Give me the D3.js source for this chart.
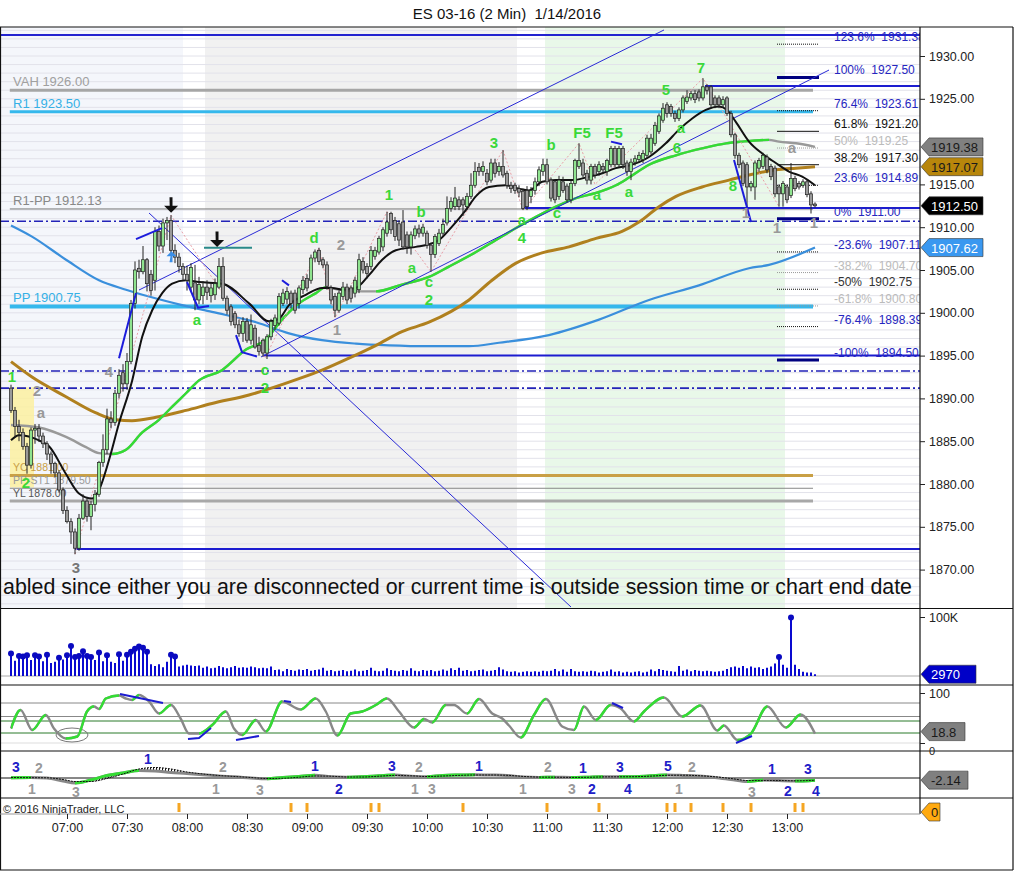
<!DOCTYPE html>
<html>
<head>
<meta charset="utf-8">
<script src="https://cdn.jsdelivr.net/npm/d3@7"></script>
<style>
body { margin: 0; background: #fff; }
svg text { font-family: "Liberation Sans", Arial, sans-serif; }
</style>
</head>
<body>
<svg id="chart" width="1014" height="871"></svg>
<script>
// ---- data ----
const chartTitle = "ES 03-16 (2 Min)  1/14/2016";
const firstBar = "06:32";
const barMinutes = 2;

const barOpen = [
 1891.2,1888.6,1886.7,1886.0,1884.4,1882.2,1886.3,1886.5,1885.6,1884.7,
 1883.5,1882.4,1881.3,1879.3,1876.9,1875.6,1874.4,1872.5,1876.0,1878.0,
 1876.2,1877.6,1878.8,1882.5,1884.0,1887.6,1887.2,1890.6,1893.0,1891.7,
 1894.3,1901.1,1905.2,1904.8,1906.2,1904.5,1903.8,1909.5,1907.8,1910.5,
 1910.8,1907.3,1906.5,1905.4,1904.5,1903.0,1903.5,1901.5,1902.0,1903.0,
 1902.0,1902.1,1903.0,1905.4,1901.7,1900.7,1899.9,1898.6,1897.6,1899.0,
 1896.8,1898.2,1896.2,1896.8,1895.3,1897.2,1898.5,1898.8,1901.1,1901.6,
 1902.3,1902.3,1901.1,1902.7,1904.0,1903.8,1906.4,1907.3,1906.2,1905.6,
 1902.9,1901.9,1900.3,1901.9,1903.0,1902.9,1902.3,1902.7,1906.0,1905.4,
 1905.4,1906.6,1907.1,1907.7,1909.3,1911.6,1910.8,1910.4,1910.6,1909.1,
 1907.7,1909.0,1909.8,1909.3,1909.3,1907.9,1906.8,1908.1,1909.3,1910.5,
 1912.2,1912.4,1913.2,1913.2,1912.4,1913.6,1914.9,1917.0,1916.5,1916.3,
 1915.5,1917.5,1916.5,1917.1,1916.3,1914.9,1914.9,1914.5,1914.2,1914.3,
 1913.6,1914.3,1915.3,1916.5,1917.3,1915.5,1915.3,1913.6,1915.3,1914.8,
 1913.2,1915.1,1917.1,1917.5,1916.3,1915.5,1917.1,1916.5,1917.1,1916.5,
 1917.3,1919.2,1917.3,1919.2,1917.5,1916.5,1917.6,1917.9,1917.9,1918.4,
 1918.8,1919.8,1921.2,1922.5,1924.3,1924.1,1923.3,1922.7,1923.7,1924.7,
 1925.1,1925.6,1925.8,1925.1,1926.4,1926.4,1925.1,1925.1,1924.3,1925.1,
 1923.3,1920.8,1918.4,1917.5,1917.3,1914.7,1914.7,1916.9,1917.1,1918.2,
 1917.1,1916.9,1914.7,1913.9,1914.7,1913.7,1915.7,1915.1,1914.9,1915.3,
 1913.9,1912.7];
const barHigh = [
 1891.6,1889.0,1887.5,1886.5,1884.8,1886.6,1887.0,1887.0,1886.0,1885.0,
 1883.8,1882.6,1881.6,1879.6,1877.4,1876.0,1874.8,1876.5,1878.8,1878.5,
 1878.0,1879.3,1882.7,1885.8,1888.8,1888.5,1891.0,1893.4,1894.0,1895.3,
 1901.5,1906.0,1906.2,1907.8,1906.4,1905.0,1910.0,1910.2,1911.0,1911.2,
 1911.4,1908.0,1907.0,1905.8,1905.5,1905.8,1905.6,1904.2,1903.7,1903.8,
 1903.5,1904.0,1906.4,1906.5,1902.0,1901.0,1900.2,1899.2,1899.5,1899.4,
 1899.8,1898.6,1897.2,1897.0,1897.5,1899.3,1899.8,1902.3,1902.8,1903.0,
 1902.6,1902.7,1903.2,1904.3,1904.5,1906.8,1907.4,1907.6,1906.5,1906.0,
 1903.2,1902.3,1902.6,1903.6,1903.4,1903.2,1904.2,1906.9,1906.5,1905.8,
 1907.8,1907.7,1909.0,1910.0,1911.8,1911.8,1911.2,1910.8,1912.0,1909.5,
 1909.5,1910.2,1910.3,1910.4,1909.6,1908.2,1909.2,1909.8,1911.0,1913.6,
 1913.5,1914.7,1913.6,1913.5,1914.0,1916.3,1917.6,1917.5,1917.7,1916.8,
 1918.0,1918.0,1917.6,1919.0,1916.6,1915.3,1915.2,1914.9,1914.5,1914.8,
 1914.7,1915.8,1917.1,1918.0,1918.0,1915.8,1915.6,1916.0,1915.9,1915.1,
 1915.4,1918.0,1919.8,1918.0,1916.7,1917.4,1917.4,1917.7,1917.5,1918.0,
 1919.5,1919.5,1919.5,1919.5,1917.8,1918.0,1918.4,1918.8,1919.0,1920.8,
 1920.9,1922.3,1923.3,1924.5,1924.6,1924.4,1923.6,1924.0,1925.4,1926.0,
 1925.9,1926.0,1926.1,1927.4,1926.7,1926.6,1925.4,1925.4,1925.3,1925.3,
 1923.6,1921.0,1918.7,1917.8,1917.6,1915.4,1917.8,1918.1,1918.7,1918.5,
 1917.4,1917.2,1915.0,1915.4,1915.0,1917.5,1916.0,1915.4,1915.6,1915.6,
 1914.2,1912.9];
const barLow = [
 1888.3,1885.5,1885.0,1884.0,1881.2,1881.8,1884.7,1884.9,1884.2,1882.8,
 1881.2,1880.8,1879.0,1876.5,1875.4,1873.0,1871.8,1872.2,1875.8,1875.6,
 1874.6,1876.8,1878.5,1882.0,1883.5,1886.5,1886.8,1890.0,1890.8,1891.0,
 1894.0,1900.5,1904.0,1904.5,1902.5,1902.0,1902.6,1907.2,1907.0,1908.5,
 1907.0,1905.8,1904.7,1903.8,1902.6,1902.5,1900.3,1901.0,1901.0,1901.5,
 1901.2,1901.5,1902.8,1901.4,1899.8,1898.5,1898.2,1897.2,1896.6,1896.5,
 1896.3,1895.8,1895.0,1894.9,1894.6,1896.8,1898.0,1898.5,1900.8,1901.0,
 1900.5,1899.9,1900.5,1902.2,1902.5,1903.4,1905.9,1905.6,1905.2,1902.7,
 1901.0,1899.5,1900.0,1901.5,1901.0,1901.2,1901.8,1902.3,1904.6,1904.0,
 1905.0,1906.2,1906.8,1907.2,1908.9,1909.2,1908.4,1907.8,1907.4,1906.9,
 1906.8,1908.6,1908.8,1908.9,1907.5,1904.8,1906.4,1907.8,1909.0,1910.2,
 1911.8,1912.0,1912.0,1911.3,1912.0,1913.3,1914.6,1916.0,1916.0,1914.9,
 1915.2,1915.8,1916.0,1915.8,1914.5,1914.0,1913.9,1913.5,1912.0,1912.0,
 1912.8,1913.8,1914.8,1916.0,1915.0,1913.0,1912.8,1913.2,1914.0,1912.9,
 1912.8,1914.8,1916.8,1915.8,1915.0,1915.0,1915.7,1916.0,1916.2,1916.0,
 1917.0,1917.0,1917.0,1916.8,1916.0,1915.5,1917.2,1917.5,1917.5,1918.0,
 1918.5,1919.5,1920.9,1922.2,1922.8,1922.9,1922.3,1922.4,1923.4,1924.4,
 1924.8,1924.5,1924.7,1924.8,1925.5,1924.0,1923.9,1923.9,1924.0,1923.0,
 1920.5,1918.0,1916.9,1914.8,1911.6,1914.2,1913.2,1916.5,1916.8,1916.3,
 1915.5,1913.5,1912.4,1912.4,1912.8,1913.4,1914.2,1914.4,1914.6,1913.5,
 1911.6,1912.3];
const barClose = [
 1888.6,1886.7,1886.0,1884.4,1882.2,1886.3,1886.5,1885.6,1884.7,1883.5,
 1882.4,1881.3,1879.3,1876.9,1875.6,1874.4,1872.5,1876.0,1878.0,1876.2,
 1877.6,1878.8,1882.5,1884.0,1887.6,1887.2,1890.6,1892.7,1891.7,1894.3,
 1901.1,1905.0,1904.8,1906.2,1903.4,1902.6,1909.5,1907.8,1910.5,1910.8,
 1907.3,1906.5,1905.4,1904.5,1903.8,1905.3,1901.5,1903.3,1903.0,1902.4,
 1902.9,1903.4,1905.4,1901.7,1900.3,1899.0,1898.6,1897.6,1899.0,1896.8,
 1898.6,1896.0,1895.5,1895.3,1897.2,1899.0,1899.4,1901.9,1902.3,1902.5,
 1901.1,1900.3,1902.9,1903.8,1902.9,1906.4,1907.1,1906.0,1905.6,1903.1,
 1901.5,1900.3,1902.3,1903.0,1901.5,1901.7,1903.8,1906.2,1905.0,1904.6,
 1907.3,1907.3,1908.7,1909.7,1910.6,1909.7,1908.9,1908.5,1907.7,1907.7,
 1909.1,1909.8,1909.3,1910.0,1907.9,1906.8,1908.9,1909.3,1910.3,1912.2,
 1913.0,1913.4,1912.4,1912.6,1913.6,1914.9,1916.5,1916.5,1917.1,1915.3,
 1917.5,1916.3,1917.1,1916.1,1914.9,1914.5,1914.3,1914.1,1912.2,1912.4,
 1914.3,1915.3,1916.7,1917.3,1915.3,1913.4,1913.2,1915.5,1914.3,1913.2,
 1915.1,1917.8,1917.8,1916.1,1915.5,1917.1,1916.1,1917.3,1916.7,1917.8,
 1919.2,1917.3,1919.2,1917.3,1916.5,1917.6,1918.0,1918.4,1918.6,1920.4,
 1920.4,1921.9,1923.0,1923.9,1923.3,1923.3,1922.7,1923.7,1925.1,1925.2,
 1925.6,1924.9,1925.1,1926.4,1926.0,1924.3,1924.3,1924.3,1924.9,1923.3,
 1920.8,1918.4,1917.3,1915.1,1914.7,1915.1,1917.5,1917.8,1918.4,1916.7,
 1915.9,1913.9,1913.9,1915.1,1913.2,1915.7,1914.5,1914.7,1915.3,1913.8,
 1912.6,1912.5];
// volume in thousands of contracts
const volume = [
 38,26,34,33,35,27,35,33,25,36, 22,24,31,28,35,51,32,34,42,34,
 32,27,40,25,35,24,22,37,26,36, 41,46,50,48,41,20,17,20,15,24,
 36,33,16,18,19,18,17,18,14,16, 13,14,17,15,13,15,17,14,15,14,
 16,15,13,14,13,16,10,11,8,12, 10,9,11,10,12,9,10,11,14,9,
 10,8,9,10,8,9,11,8,9,10, 14,9,8,9,13,10,9,8,10,9,
 13,9,8,10,9,10,8,9,11,9, 13,10,14,9,10,8,9,10,11,8,
 9,10,15,11,8,7,8,6,7,8, 7,8,7,9,8,9,12,8,11,7,
 12,8,7,8,7,9,8,6,7,8, 11,7,8,6,7,6,7,8,6,7,
 11,8,12,10,9,8,7,17,9,11, 8,10,9,8,9,8,7,8,9,12,
 15,16,14,17,13,16,14,15,12,14, 16,21,32,19,14,99,19,12,7,6,
 6,2.97];

// indicator lines, [bar index, value]
const fastAvg = [[0,1885.1],[2,1885.7],[7,1885.1],[9.5,1884.4],[13.7,1881.2],[17,1878.9],[20.3,1878.3],[22,1879.3],
 [24.5,1882.8],[27,1887.1],[30.3,1892.1],[32.8,1897.2],[35.3,1900.3],[37.8,1902.3],[40.3,1903.4],[43.7,1903.8],
 [47,1903.6],[52.8,1903.4],[59.5,1901.1],[64.5,1899.0],[67,1899.3],[69.5,1900.9],[73.7,1902.1],[77.8,1902.9],
 [80.3,1902.9],[82.8,1902.7],[86.2,1902.9],[89.5,1904.4],[92.8,1906.2],[96.2,1907.3],[101.2,1907.7],[104.5,1908.0],
 [107,1908.5],[110.3,1910.1],[113.7,1912.0],[116.2,1913.6],[119.5,1914.7],[123.7,1914.9],[127,1914.5],[129.5,1914.3],
 [132.8,1915.3],[136.2,1915.5],[140.3,1915.5],[144.5,1915.9],[147.8,1916.3],[151.2,1916.9],[154.5,1917.2],[159.5,1918.2],
 [163.7,1919.8],[167,1921.4],[170.3,1922.7],[173.7,1923.7],[177,1924.1],[179,1923.7],[181.2,1922.3],[184.5,1920.0],
 [187.8,1918.6],[191.2,1917.5],[194.5,1916.5],[197.8,1915.9],[201,1914.9]];
const midAvg = [[0,1886.9],[7,1886.6],[13.75,1885.5],[18.75,1884.3],[22,1883.6],[25.25,1883.5],[28.75,1884.0],
 [32.75,1886.0],[37,1887.5],[40.25,1889.0],[43.75,1890.6],[47,1892.1],[52.75,1893.3],[58.75,1895.7],[63.75,1896.9],
 [67.75,1899.2],[72,1901.1],[76.25,1902.3],[78.75,1903.0],[82,1902.7],[87.75,1902.5],[91.25,1902.5],[97.75,1903.3],
 [104.5,1904.2],[109.5,1905.4],[116.25,1907.1],[121.25,1908.5],[126.25,1909.9],[131.25,1911.2],[136.25,1912.4],
 [141.25,1913.4],[146.25,1914.0],[151.25,1914.9],[154.5,1915.8],[159.5,1917.3],[166.25,1918.4],[172.75,1919.2],
 [178.75,1919.8],[182.75,1920.0],[189.5,1920.2],[192,1920.0],[196.25,1919.8],[201,1919.38]];
const slowAvg = [[0,1894.3],[5.25,1892.5],[13.75,1890.2],[21.25,1888.3],[26.25,1887.5],[30.25,1887.4],[36.25,1887.8],
 [43.75,1888.6],[50.25,1889.4],[59.5,1890.4],[72,1892.3],[77.75,1893.3],[84.5,1894.7],[91.25,1896.2],[97.75,1897.8],
 [104.5,1898.9],[114.5,1901.5],[120.25,1903.8],[126.25,1905.8],[132.75,1907.0],[139.5,1907.7],[146.25,1908.7],
 [152.75,1909.5],[157,1910.6],[162,1912.4],[166.25,1913.6],[172.75,1914.7],[179.5,1915.5],[184.5,1916.1],
 [191.25,1916.7],[196.25,1916.9],[201,1917.07]];
const longAvg = [[0,1910.2],[5.25,1908.9],[13.75,1906.2],[22,1903.8],[28.75,1902.7],[34.5,1901.9],[42.75,1900.9],
 [50.25,1900.1],[61.25,1898.9],[69.5,1897.6],[77.75,1896.8],[86.25,1896.4],[94.5,1896.2],[104.5,1896.1],
 [114.5,1896.1],[122,1896.5],[134.5,1897.4],[147,1899.2],[159.5,1901.5],[172,1903.2],[184.5,1905.2],
 [189.5,1905.6],[201,1907.62]];

const stoch = [[0,29],[2.4,66],[5.3,26],[8.7,56],[10.75,29],[13.7,9],[16.6,13],[19,63],[20.75,73],[22,68],
 [23.7,89],[27,95],[28.7,89],[30.3,86],[32,96],[34.5,83],[37,59],[40,76],[42.4,49],[44.5,19],[47,19],
 [50.3,36],[53.7,63],[55.75,29],[57.8,16],[61.2,46],[63.7,23],[67.8,83],[72.4,67],[76.2,89],[78.7,63],
 [81.6,15],[84.9,59],[87.8,63],[91.2,76],[94,89],[97,63],[100.75,31],[103.25,48],[105.3,41],[108.7,76],
 [110.75,76],[114,59],[117,88],[120.3,59],[122.8,49],[124.5,35],[127.4,11],[130.75,56],[133.7,88],
 [137.8,33],[140.75,26],[143.25,73],[146.2,46],[149.9,76],[152.4,69],[155.75,43],[158.25,63],[163.25,91],
 [167.8,53],[172.4,75],[176.6,25],[178.25,35],[181.6,6],[185,19],[189.1,73],[193.7,31],[197.4,57],[201,18.8]];
const stochLevels = [80, 53, 44, 20, 0];

const macdBars = [0,5,9,13,16,20,24,28,32,36,40,44,48,52,56,60,64,68,72,76,80,84,88,92,96,100,
 104,108,112,116,120,124,128,132,136,140,144,148,152,156,160,164,168,172,176,180,184,188,192,196,201];
const macdMain = [0.3,0.5,0,-3,-5,-2,2.5,5,7.5,7,5.5,4.5,3.2,2,1.2,0,-0.8,0.5,1.5,2.7,1.2,0.8,1.3,2.2,3,1.8,
 1.2,2.5,3,3.3,3,2.5,1,0.6,0.8,0.5,0.8,1.3,1.2,1.3,2.2,3,2.6,2,0.5,-1.5,-3.5,-2,-2.6,-3,-2.14];
const macdSignal = [0.5,0.3,0.2,-1.5,-3.5,-3.5,-0.5,4,9,10.5,9,6,4,2.5,1.5,0.5,-0.5,-0.3,0.8,2,1.8,1,1,1.8,2.6,2.2,
 1.5,2,2.6,3,3,2.7,1.6,0.9,0.8,0.6,0.7,1.1,1.2,1.3,1.9,2.7,2.8,2.3,1.2,-0.5,-2.5,-2.6,-2.5,-2.8,-2.3];
const macdText = ["3","2","1","3","1","2","1","3","1","2","3","2","1","3","1","2","1","3","1","2","3","4","5","2","1","3","1","2","3","4"];
const macdTextBar = [1.25,7,5.25,16.25,34.25,53,51.25,62.25,76,82,95.25,102,101,105.25,117,134.25,128,140.25,143,145.25,152.25,154.25,164.25,170.25,167,185.25,190.25,194.25,199.25,201.25];
const macdTextVal = [11,10,-11,-14,19,11,-11,-12,12,-11,12,11,-11,-11,12,11,-11,-11,10,-11,11,-11,12,11,-11,-14,9,-13,9,-13];
const macdTextBlue = [1,0,0,0,1,0,0,0,1,1,1,0,0,0,1,0,0,0,1,1,1,1,1,0,0,0,1,1,1,1];

const signalBars = [42,70,74,90,92,113,134,147,164,166,170,178,185,196,198];

// key levels drawn across the chart
const levelNames = ["VAH 1926.00","R1 1923.50","R1-PP 1912.13","PP 1900.75","YC 1881.00","PP-ST1 1879.50","YL 1878.00"];
const levelPrices = [1926.00,1923.50,1912.13,1900.75,1881.00,1879.50,1878.00];
const fibPct = ["123.6%","100%","76.4%","61.8%","50%","38.2%","23.6%","0%","-23.6%","-38.2%","-50%","-61.8%","-76.4%","-100%"];
const fibPrice = [1931.38,1927.50,1923.61,1921.20,1919.25,1917.30,1914.89,1911.00,1907.11,1904.70,1902.75,1900.80,1898.39,1894.50];
const rayStart = [16,63,127.75,173.5];          // bar where the horizontal ray starts
const rayPrice = [1872.4,1895.0,1912.25,1926.5];
const dashPrices = [1910.7,1893.2,1891.2];
const topLine = 1932.45;
const priceTicks = [1870,1875,1880,1885,1890,1895,1900,1905,1910,1915,1925,1930]; // 1920 sits under a tag

const trendLines = [[[32,1902.66],[163.25,1933.04]],[[62.5,1894.84],[204.5,1928.36]],[[34.5,1911.66],[140,1865.63]]];
const waveLines = [[[27,1894.7],[31.25,1902.3]],[[31.25,1908.6],[37.75,1909.9]],[[44,1903.6],[46.75,1900.6],[49.5,1900.8]],
 [[56.25,1897.4],[57.75,1895.4],[61.5,1894.9]],[[67.75,1903.8],[69.5,1903.2]],[[150,1920.0],[152.75,1919.7]],
 [[180.75,1917.85],[185,1910.6]]];
const zigzag = [[16,1871.8],[40,1911.4],[63.5,1894.7],[77,1907.6],[81,1899.4],[94,1911.8],[105,1904.8],[123,1919.0],
 [128,1912.0],[142,1919.8],[146,1915.0],[173,1927.4],[192,1912.4]];
const stochLines = [[[27.25,98],[38,80]],[[44.25,8],[47,10],[50,30]],[[56.25,6],[62,14]],[[68.25,84],[70,82]],
 [[150.25,80],[153,70]],[[181.25,0],[185.25,14]]];

const waveText = ["1","2","2","a","3","4","a","c","2","d","2","1","1","b","a","c","2","3","a","4","b","c","F5","F5","a","a","5","a","6","7","8","1","1","1","a"];
const waveBar = [0.25,3.75,6.5,7.5,16.25,24.5,46.5,63.5,63.5,75.75,82.5,81.5,94.5,102.5,100.25,104.5,104.5,120.75,127.75,127.75,135,136.5,142.75,150.75,146.5,154.5,163.75,167.5,166.5,172.5,180.5,183.75,191.5,200.75,195.25];
const wavePrice = [1892.5,1880.1,1890.9,1888.3,1870.2,1893.1,1899.2,1893.3,1891.2,1908.7,1907.9,1898.0,1913.8,1911.8,1905.2,1903.6,1901.5,1919.8,1910.8,1908.7,1919.6,1911.7,1921.0,1921.0,1913.8,1914.1,1926.0,1921.6,1919.3,1928.6,1914.8,1911.7,1909.9,1910.5,1919.3];
const waveGreen = [1,1,0,0,0,0,1,1,1,1,0,0,1,1,1,1,1,1,1,1,1,1,1,1,1,1,1,1,1,1,1,0,0,0,0];

const sessionStart = ["06:20","08:09","10:59"];
const sessionEnd = ["07:58","10:45","12:59"];

// ---- drawing ----
const W = 1014, H = 871;
const axisX = 920;
let svg = d3.select("#chart");
let defs = svg.append("defs");

function hm(s) {
    let [h, m] = s.split(":").map(Number);
    return new Date(2016, 0, 14, h, m);
}
function barTime(i) {
    return new Date(hm(firstBar).getTime() + i * barMinutes * 60000);
}
let n = barClose.length;
let x = d3.scaleTime().domain([barTime(0), barTime(n - 1)]).range([11, 815]);
let xi = i => x(barTime(i));
let y = d3.scaleLinear().domain([1870, 1930]).range([569.6, 56]);
let yVol = d3.scaleLinear().domain([0, 100]).range([676, 617]);
let ySto = d3.scaleLinear().domain([0, 100]).range([743, 693]);
let yMacd = d3.scaleLinear().domain([-20, 20]).range([798, 758]);

svg.append("rect").attr("width", W).attr("height", H).attr("fill", "#fff");

function panelClip(id, top, bottom) {
    defs.append("clipPath").attr("id", id).append("rect")
        .attr("x", 0).attr("y", top).attr("width", axisX).attr("height", bottom - top);
    return svg.append("g").attr("clip-path", `url(#${id})`);
}
let main = panelClip("mainClip", 27, 608);

// session shading
let bandFill = ["#f4f6fb", "#f1f1f1", "#e9f8e9"];
sessionStart.forEach((s, k) => {
    main.append("rect")
        .attr("x", x(hm(s))).attr("width", x(hm(sessionEnd[k])) - x(hm(s)))
        .attr("y", 27).attr("height", 581).attr("fill", bandFill[k]);
});
// one-point grid
main.selectAll(".grid").data(d3.range(1866, 1934)).join("line")
    .attr("x1", 0).attr("x2", axisX).attr("y1", d => y(d)).attr("y2", d => y(d))
    .attr("stroke", "#e2e2ea").attr("stroke-width", 1);

// yellow opening box
main.append("rect").attr("x", xi(-0.25)).attr("width", xi(5.75) - xi(-0.25))
    .attr("y", y(1891.3)).attr("height", y(1879.6) - y(1891.3)).attr("fill", "#fbf0a0").attr("opacity", 0.85);

// pivot levels
let levelColor = ["#a6a6a6", "#35b8ec", "#777", "#35b8ec", "#c9a045", "#888", "#a8a8a8"];
let levelText = ["#a0a0a0", "#35b0e6", "#888", "#35b0e6", "#c9a045", "#999", "#555"];
let levelWidth = [3, 3, 1, 4, 3, 1, 3];
let levelFont = [13, 13, 13, 13, 10.5, 10.5, 10.5];
levelPrices.forEach((p, k) => {
    main.append("line").attr("x1", xi(-0.3)).attr("x2", xi(200.5)).attr("y1", y(p)).attr("y2", y(p))
        .attr("stroke", levelColor[k]).attr("stroke-width", levelWidth[k]);
    main.append("text").attr("x", 13).attr("y", y(p) - 4).attr("font-size", levelFont[k])
        .attr("fill", levelText[k]).text(levelNames[k]);
});
dashPrices.forEach(p => {
    main.append("line").attr("x1", 0).attr("x2", axisX).attr("y1", y(p)).attr("y2", y(p))
        .attr("stroke", "#2323b8").attr("stroke-width", 1.6).attr("stroke-dasharray", "9,3,2,3");
});
main.append("line").attr("x1", 0).attr("x2", axisX).attr("y1", y(topLine)).attr("y2", y(topLine))
    .attr("stroke", "#2323d0").attr("stroke-width", 2);
rayStart.forEach((b, k) => {
    main.append("line").attr("x1", xi(b)).attr("x2", axisX).attr("y1", y(rayPrice[k])).attr("y2", y(rayPrice[k]))
        .attr("stroke", "#1c1cd0").attr("stroke-width", 2);
});

// fibonacci block at the right
let fibColor = ["#2525c0","#2525c0","#2525c0","#111","#bbb","#111","#2525c0","#2525c0","#2525c0","#bbb","#333","#bbb","#2525c0","#2525c0"];
fibPrice.forEach((p, k) => {
    let heavy = (fibPct[k] == "100%" || fibPct[k] == "0%" || fibPct[k] == "-100%");
    main.append("line").attr("x1", xi(191.5)).attr("x2", xi(202)).attr("y1", y(p)).attr("y2", y(p))
        .attr("stroke", heavy ? "#000080" : (fibColor[k] == "#bbb" ? "#999" : "#111"))
        .attr("stroke-width", heavy ? 3 : 1)
        .attr("stroke-dasharray", heavy || fibColor[k] == "#111" ? null : "1,1");
    main.append("text").attr("x", 834).attr("y", y(p) - 3).attr("font-size", 12)
        .attr("fill", fibColor[k]).style("white-space", "pre").text(fibPct[k] + "  " + p.toFixed(2));
});

// moving averages
function curveLine(xf, yf) {
    return d3.line().x(d => xf(d[0])).y(d => yf(d[1])).curve(d3.curveMonotoneX);
}
function slopeLine(g, pts, yf, upColor, downColor, width, clipId) {
    let line = curveLine(xi, yf);
    g.append("path").datum(pts).attr("d", line).attr("fill", "none")
        .attr("stroke", downColor).attr("stroke-width", width);
    let clip = defs.append("clipPath").attr("id", clipId);
    for (let k = 1; k < pts.length; k++) {
        if (pts[k][1] > pts[k - 1][1]) {
            clip.append("rect").attr("x", xi(pts[k - 1][0])).attr("width", xi(pts[k][0]) - xi(pts[k - 1][0]))
                .attr("y", 0).attr("height", H);
        }
    }
    g.append("path").datum(pts).attr("d", line).attr("fill", "none")
        .attr("stroke", upColor).attr("stroke-width", width).attr("clip-path", `url(#${clipId})`);
}
main.append("path").datum(longAvg).attr("d", curveLine(xi, y)).attr("fill", "none")
    .attr("stroke", "#3a8fdc").attr("stroke-width", 2.2);
main.append("path").datum(slowAvg).attr("d", curveLine(xi, y)).attr("fill", "none")
    .attr("stroke", "#b0801e").attr("stroke-width", 3);
slopeLine(main, midAvg, y, "#33dd33", "#999", 2.4, "midClip");

// trend lines, wave lines, zigzag
let lineXY = d3.line().x(d => xi(d[0])).y(d => y(d[1]));
trendLines.forEach(t => main.append("path").datum(t).attr("d", lineXY).attr("fill", "none")
    .attr("stroke", "#2a2ad6").attr("stroke-width", 1));
main.append("path").datum(zigzag).attr("d", lineXY).attr("fill", "none")
    .attr("stroke", "#e8a0a8").attr("stroke-width", 1).attr("stroke-dasharray", "2,2");
main.append("path").datum([[48.25, 1907.6], [60.25, 1907.6]]).attr("d", lineXY)
    .attr("stroke", "#2a8a8a").attr("stroke-width", 2);

main.append("path").datum(fastAvg).attr("d", curveLine(xi, y)).attr("fill", "none")
    .attr("stroke", "#111").attr("stroke-width", 2);

// candles
let candles = main.append("g");
d3.range(n).forEach(i => {
    let up = barClose[i] >= barOpen[i];
    let cx = xi(i);
    candles.append("line").attr("x1", cx).attr("x2", cx).attr("y1", y(barHigh[i])).attr("y2", y(barLow[i]))
        .attr("stroke", "#222").attr("stroke-width", 1);
    let top = y(Math.max(barOpen[i], barClose[i]));
    let bot = y(Math.min(barOpen[i], barClose[i]));
    candles.append("rect").attr("x", cx - 1.6).attr("width", 3.2).attr("y", top).attr("height", Math.max(1, bot - top))
        .attr("fill", up ? "#8fe48f" : "#9a9a9a").attr("stroke", "#222").attr("stroke-width", 0.7);
});
waveLines.forEach(t => main.append("path").datum(t).attr("d", lineXY).attr("fill", "none")
    .attr("stroke", "#1c1cdc").attr("stroke-width", 2));

// arrows
function arrow(g, cx, tipY, dir, color, size) {
    let s = size;
    let p = dir > 0
        ? `M${cx - 1.5},${tipY - 2.2 * s} h3 v${1.2 * s} h${0.8 * s} l${-s},${s} l${-s},${-s} h${0.8 * s}z`
        : `M${cx - 1.5},${tipY + 2.2 * s} h3 v${-1.2 * s} h${0.8 * s} l${-s},${-s} l${-s},${s} h${0.8 * s}z`;
    g.append("path").attr("d", p).attr("fill", color);
}
arrow(main, xi(40), y(1911.7), 1, "#111", 7);
arrow(main, xi(51.5), y(1907.7), 1, "#111", 7);
arrow(main, xi(40), y(1907.2), -1, "#3a8fe8", 5);

// wave labels
waveText.forEach((t, k) => {
    main.append("text").attr("x", xi(waveBar[k])).attr("y", y(wavePrice[k]) + 5)
        .attr("text-anchor", "middle").attr("font-size", 15).attr("font-weight", "bold")
        .attr("fill", waveGreen[k] ? "#3ad83a" : (k == 4 ? "#777" : "#999")).text(t);
});

// disconnect message
let msg = main.append("text").attr("x", 912).attr("y", 594).attr("text-anchor", "end")
    .attr("font-size", 20).attr("fill", "#111")
    .text("abled since either you are disconnected or current time is outside session time or chart end date");
let msgLen = msg.node().getComputedTextLength();
msg.attr("font-size", 20 * 910 / msgLen);

// ---- volume panel ----
let vol = panelClip("volClip", 609, 685);
vol.append("line").attr("x1", 0).attr("x2", axisX).attr("y1", yVol(0)).attr("y2", yVol(0)).attr("stroke", "#aaa");
vol.selectAll(".vb").data(volume).join("line")
    .attr("x1", (d, i) => xi(i)).attr("x2", (d, i) => xi(i))
    .attr("y1", yVol(0)).attr("y2", d => yVol(d)).attr("stroke", "#0a0ad0").attr("stroke-width", 2);
vol.selectAll(".vd").data(volume.map((v, i) => [i, v]).filter(d => d[1] > 30)).join("circle")
    .attr("cx", d => xi(d[0])).attr("cy", d => yVol(d[1])).attr("r", 3).attr("fill", "#0a0ac0");

// ---- stochastic panel ----
let sto = panelClip("stoClip", 685, 751);
let stoColor = ["#888", "#888", "#2a7a2a", "#2a7a2a", "#ddd"];
stochLevels.forEach((v, k) => sto.append("line").attr("x1", 0).attr("x2", axisX)
    .attr("y1", ySto(v)).attr("y2", ySto(v)).attr("stroke", stoColor[k]).attr("stroke-width", 1));
sto.append("ellipse").attr("cx", xi(15.25)).attr("cy", ySto(16)).attr("rx", 16).attr("ry", 7)
    .attr("fill", "none").attr("stroke", "#777").attr("stroke-width", 1);
slopeLine(sto, stoch, ySto, "#33dd33", "#888", 2.4, "stoSlope");
let stoXY = d3.line().x(d => xi(d[0])).y(d => ySto(d[1]));
stochLines.forEach(t => sto.append("path").datum(t).attr("d", stoXY).attr("fill", "none")
    .attr("stroke", "#1c1cd0").attr("stroke-width", 2));

// ---- macd panel ----
let mac = panelClip("macClip", 751, 798);
let pat = defs.append("pattern").attr("id", "hatch").attr("patternUnits", "userSpaceOnUse")
    .attr("width", 3).attr("height", 6);
pat.append("line").attr("x1", 0.5).attr("x2", 0.5).attr("y1", 0).attr("y2", 6).attr("stroke", "#111").attr("stroke-width", 1);
let macdPts = macdBars.map((b, k) => [b, macdMain[k]]);
let sigPts = macdBars.map((b, k) => [b, macdSignal[k]]);
mac.append("path").datum(macdBars.map((b, k) => [b, macdMain[k], macdSignal[k]]))
    .attr("d", d3.area().x(d => xi(d[0])).y0(d => yMacd(d[1])).y1(d => yMacd(d[2])).curve(d3.curveMonotoneX))
    .attr("fill", "url(#hatch)");
mac.append("line").attr("x1", 0).attr("x2", axisX).attr("y1", yMacd(0)).attr("y2", yMacd(0)).attr("stroke", "#111");
slopeLine(mac, macdPts, yMacd, "#33dd33", "#888", 3, "macSlope");
mac.append("path").datum(sigPts).attr("d", curveLine(xi, yMacd)).attr("fill", "none")
    .attr("stroke", "#111").attr("stroke-width", 1).attr("stroke-dasharray", "2,1");
macdText.forEach((t, k) => {
    mac.append("text").attr("x", xi(macdTextBar[k])).attr("y", yMacd(macdTextVal[k]) + 5)
        .attr("text-anchor", "middle").attr("font-size", 14).attr("font-weight", "bold")
        .attr("fill", macdTextBlue[k] ? "#2020c8" : "#999").text(t);
});

// ---- signal marker strip ----
let sig = panelClip("sigClip", 798, 814);
sig.selectAll(".sm").data(signalBars).join("rect")
    .attr("x", d => xi(d) - 1.5).attr("width", 3).attr("y", 803).attr("height", 9).attr("fill", "#f5a623");
svg.append("text").attr("x", 3).attr("y", 813).attr("font-size", 11).attr("fill", "#222")
    .text("\u00a9 2016 NinjaTrader, LLC");

// ---- frames ----
let frame = svg.append("g").attr("stroke", "#111").attr("stroke-width", 1.2);
[27, 608.5, 685, 751, 798, 870].forEach(v => frame.append("line").attr("x1", 0).attr("x2", 1013).attr("y1", v).attr("y2", v));
frame.append("line").attr("x1", 0.5).attr("x2", 0.5).attr("y1", 27).attr("y2", 870);
frame.append("line").attr("x1", 1013).attr("x2", 1013).attr("y1", 27).attr("y2", 870);
frame.append("line").attr("x1", axisX).attr("x2", axisX).attr("y1", 27).attr("y2", 814);
svg.append("line").attr("x1", 0).attr("x2", axisX).attr("y1", 814).attr("y2", 814).attr("stroke", "#999");

// ---- axes ----
function styleAxis(g) {
    g.select(".domain").remove();
    g.selectAll("text").attr("font-size", 12.5).attr("fill", "#222").style("font-family", "Liberation Sans, Arial, sans-serif");
    g.selectAll("line").attr("stroke", "#222");
}
svg.append("g").attr("transform", `translate(${axisX},0)`)
    .call(d3.axisRight(y).tickValues(priceTicks).tickFormat(d3.format(".2f")).tickSize(5).tickPadding(4))
    .call(styleAxis);
svg.append("g").attr("transform", `translate(${axisX},0)`)
    .call(d3.axisRight(yVol).tickValues([100]).tickFormat(d => d + "K").tickSize(5).tickPadding(4))
    .call(styleAxis);
let stoAxis = svg.append("g").attr("transform", `translate(${axisX},0)`)
    .call(d3.axisRight(ySto).tickValues([0, 100]).tickSize(5).tickPadding(4))
    .call(styleAxis);
// the zero label peeks out below the last-value tag, as in the original
stoAxis.selectAll(".tick").filter(d => d == 0).select("text").attr("dy", "1.05em").attr("font-size", 11);
svg.append("g").attr("transform", "translate(0,814)")
    .call(d3.axisBottom(x).ticks(d3.timeMinute.every(30)).tickFormat(d3.timeFormat("%H:%M")).tickSize(5).tickPadding(4))
    .call(styleAxis);

// value tags on the right axis
function tag(yc, label, bg, fg, w) {
    svg.append("path")
        .attr("d", `M${axisX + 1},${yc} L${axisX + 9},${yc - 9} H${axisX + 9 + w} V${yc + 9} H${axisX + 9}Z`)
        .attr("fill", bg).attr("stroke", "#333").attr("stroke-width", 0.6);
    svg.append("text").attr("x", axisX + 11).attr("y", yc + 5).attr("font-size", 13)
        .attr("fill", fg).text(label);
}
tag(y(midAvg[midAvg.length - 1][1]), "1919.38", "#808080", "#1a1a1a", 54);
tag(y(slowAvg[slowAvg.length - 1][1]), "1917.07", "#b8860b", "#1a1a1a", 54);
tag(y(barClose[n - 1]), "1912.50", "#000", "#fff", 54);
tag(y(longAvg[longAvg.length - 1][1]), "1907.62", "#3a98f0", "#fff", 54);
tag(yVol(volume[n - 1]), "2970", "#0000c8", "#fff", 47);
tag(ySto(stoch[stoch.length - 1][1]) - 2, "18.8", "#808080", "#1a1a1a", 36);
tag(yMacd(macdMain[macdMain.length - 1]), "-2.14", "#808080", "#1a1a1a", 39);
tag(812, "0", "#ffaa10", "#1a1a1a", 11);

// title
svg.append("text").attr("x", 507).attr("y", 19).attr("text-anchor", "middle").attr("font-size", 15)
    .attr("fill", "#111").style("white-space", "pre").text(chartTitle);
</script>
</body>
</html>
